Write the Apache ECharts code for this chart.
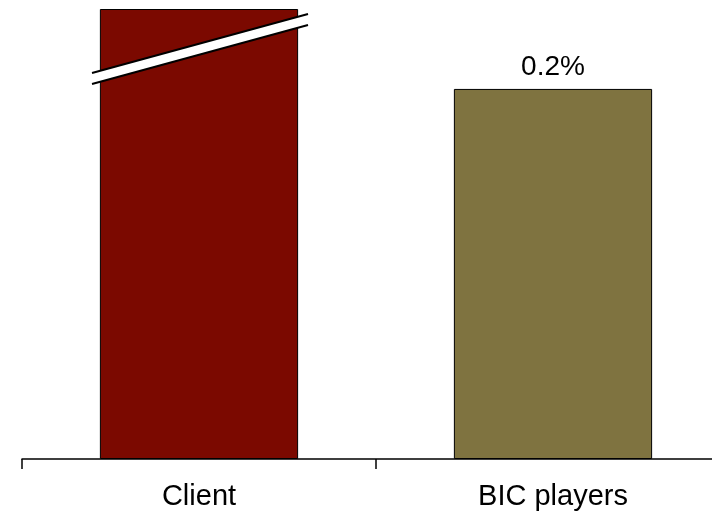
<!DOCTYPE html>
<html>
<head>
<meta charset="utf-8">
<script src="https://cdn.jsdelivr.net/npm/echarts@6/dist/echarts.min.js"></script>
<style>
  html, body { margin: 0; padding: 0; background: #fff; }
  #chart { width: 712px; height: 518px; }
</style>
</head>
<body>
<div id="chart"></div>
<script>
const categories = ['Client', 'BIC players'];
// client bar is cut by a break marker, its drawn height is what is visible
const values = [0.2432, 0.2];
const valueLabels = ['', '0.2%'];
const barColors = ['#7b0900', '#7f7340'];

const chart = echarts.init(document.getElementById('chart'));

chart.setOption({
  animation: false,
  grid: { left: 22, width: 708, top: 9, bottom: 59, outerBoundsMode: 'none', containLabel: false },
  xAxis: {
    type: 'category',
    data: categories,
    axisLine: { lineStyle: { color: '#000', width: 1.5 } },
    axisTick: { show: true, length: 10, lineStyle: { color: '#000', width: 1.5 } },
    axisLabel: {
      color: '#000',
      fontSize: 29,
      fontFamily: 'Liberation Sans, Arial, sans-serif',
      margin: 23
    }
  },
  yAxis: {
    type: 'value',
    min: 0,
    max: 0.2432,
    show: false,
    splitLine: { show: false }
  },
  series: [
    {
      type: 'bar',
      barWidth: '56%',
      data: values.map((v, i) => ({
        value: v,
        itemStyle: { color: barColors[i], borderColor: '#000', borderWidth: 1 },
        label: {
          show: valueLabels[i] !== '',
          formatter: valueLabels[i],
          position: 'top',
          distance: 8,
          color: '#000',
          fontSize: 28,
          fontFamily: 'Liberation Sans, Arial, sans-serif'
        }
      }))
    }
  ]
});

// break marker across the client bar
const c = chart.convertToPixel({ xAxisIndex: 0 }, categories[0]);
const x1 = c - 107, x2 = c + 109;
const upL = 73, upR = 14, gap = 11;
chart.setOption({
  graphic: [
    {
      type: 'polygon',
      shape: { points: [[x1, upL], [x2, upR], [x2, upR + gap], [x1, upL + gap]] },
      style: { fill: '#fff', stroke: null },
      z: 100
    },
    {
      type: 'line',
      shape: { x1: x1, y1: upL, x2: x2, y2: upR },
      style: { stroke: '#000', lineWidth: 2 },
      z: 101
    },
    {
      type: 'line',
      shape: { x1: x1, y1: upL + gap, x2: x2, y2: upR + gap },
      style: { stroke: '#000', lineWidth: 2 },
      z: 101
    }
  ]
});
</script>
</body>
</html>
